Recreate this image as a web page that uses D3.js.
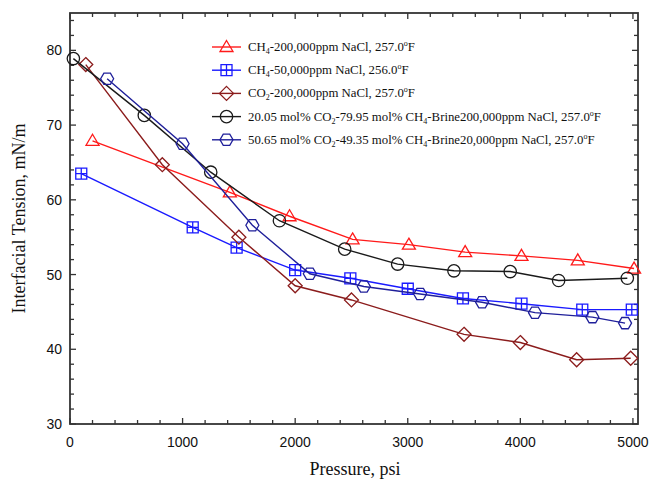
<!DOCTYPE html>
<html>
<head>
<meta charset="utf-8">
<script src="https://cdn.jsdelivr.net/npm/d3@7"></script>
<style>
  body { margin: 0; background: #fff; }
  svg text { fill: #111; }
</style>
</head>
<body>
<div id="chart"></div>
<script>
// series data (pressure psi, IFT mN/m)
const ch4High = [[200,67.9],[1420,61.0],[1950,57.8],[2510,54.7],[3010,54.0],[3510,53.0],[4010,52.5],[4510,51.9],[5010,50.8]];
const ch4Low = [[100,63.5],[1090,56.3],[1480,53.6],[2000,50.6],[2490,49.5],[3000,48.1],[3490,46.8],[4010,46.1],[4550,45.3],[4990,45.3]];
const co2High = [[140,78.1],[820,64.7],[1500,55.0],[2000,48.5],[2500,46.6],[3500,42.0],[4000,40.9],[4500,38.6],[4980,38.8]];
const mix20 = [[30,78.9],[660,71.3],[1250,63.7],[1860,57.2],[2440,53.4],[2910,51.4],[3410,50.5],[3910,50.4],[4340,49.2],[4950,49.5]];
const mix50 = [[330,76.2],[1000,67.5],[1620,56.6],[2130,50.1],[2610,48.4],[3110,47.4],[3660,46.3],[4130,44.9],[4640,44.3],[4930,43.5]];

const xTicks = [0, 1000, 2000, 3000, 4000, 5000];
const yTicks = [30, 40, 50, 60, 70, 80];

// legend labels as [text, kind] pieces
const legendLabels = [
  [["CH"],["4","sub"],["-200,000ppm NaCl, 257.0"],["o","sup"],["F"]],
  [["CH"],["4","sub"],["-50,000ppm NaCl, 256.0"],["o","sup"],["F"]],
  [["CO"],["2","sub"],["-200,000ppm NaCl, 257.0"],["o","sup"],["F"]],
  [["20.05 mol% CO"],["2","sub"],["-79.95 mol% CH"],["4","sub"],["-Brine200,000ppm NaCl, 257.0"],["o","sup"],["F"]],
  [["50.65 mol% CO"],["2","sub"],["-49.35 mol% CH"],["4","sub"],["-Brine20,000ppm NaCl, 257.0"],["o","sup"],["F"]]
];

const series = [
  { data: ch4High, color: "#ff1a1a", marker: "triangle" },
  { data: ch4Low, color: "#1a1aff", marker: "squarecross" },
  { data: co2High, color: "#8b1c1c", marker: "diamond" },
  { data: mix20, color: "#1a1a1a", marker: "circle" },
  { data: mix50, color: "#1f1f9a", marker: "hexagon" }
];

const W = 651, H = 490;
const margin = { left: 70, right: 13, top: 13, bottom: 66 };

const svg = d3.select("#chart").append("svg")
  .attr("width", W).attr("height", H);

const x = d3.scaleLinear().domain([0, 5045]).range([margin.left, W - margin.right]);
const y = d3.scaleLinear().domain([30, 85]).range([H - margin.bottom, margin.top]);

const axisColor = "#333";
const tickFont = "'Liberation Sans', Arial, sans-serif";
const serif = "'Liberation Serif', 'Times New Roman', serif";

// frame
svg.append("rect")
  .attr("x", x.range()[0]).attr("y", y.range()[1])
  .attr("width", x.range()[1] - x.range()[0])
  .attr("height", y.range()[0] - y.range()[1])
  .attr("fill", "none").attr("stroke", axisColor).attr("stroke-width", 1.8);

// inward ticks on all four sides
const xMinor = d3.range(0, 5001, 200);
const yMinor = d3.range(30, 85, 2);
const tg = svg.append("g").attr("stroke", axisColor).attr("stroke-width", 1.3);
xMinor.forEach(v => {
  const len = v % 1000 === 0 ? 6 : 4;
  tg.append("line").attr("x1", x(v)).attr("x2", x(v)).attr("y1", y(30)).attr("y2", y(30) - len);
  tg.append("line").attr("x1", x(v)).attr("x2", x(v)).attr("y1", y(85)).attr("y2", y(85) + len);
});
yMinor.forEach(v => {
  const len = v % 10 === 0 ? 6 : 4;
  tg.append("line").attr("y1", y(v)).attr("y2", y(v)).attr("x1", x(0)).attr("x2", x(0) + len);
  tg.append("line").attr("y1", y(v)).attr("y2", y(v)).attr("x1", x.range()[1]).attr("x2", x.range()[1] - len);
});

// tick labels
svg.append("g").selectAll("text").data(xTicks).enter().append("text")
  .attr("x", d => x(d)).attr("y", y(30) + 23)
  .attr("text-anchor", "middle")
  .style("font-family", tickFont).style("font-size", "14px")
  .text(d => d);
svg.append("g").selectAll("text").data(yTicks).enter().append("text")
  .attr("x", x(0) - 8).attr("y", d => y(d) + 5)
  .attr("text-anchor", "end")
  .style("font-family", tickFont).style("font-size", "14px")
  .text(d => d);

// axis titles
svg.append("text")
  .attr("x", (x.range()[0] + x.range()[1]) / 2 + 1).attr("y", 475)
  .attr("text-anchor", "middle")
  .style("font-family", serif).style("font-size", "18px")
  .text("Pressure, psi");
svg.append("text")
  .attr("transform", `translate(25,${(y.range()[0] + y.range()[1]) / 2}) rotate(-90)`)
  .attr("text-anchor", "middle")
  .style("font-family", serif).style("font-size", "18px")
  .text("Interfacial Tension, mN/m");

// marker shapes
function markerPath(type) {
  if (type === "triangle") return "M0,-6.5L6.5,4.5L-6.5,4.5Z";
  if (type === "diamond") return "M0,-7L7,0L0,7L-7,0Z";
  if (type === "squarecross") return "M-5.5,-5.5H5.5V5.5H-5.5Z M0,-5.5V5.5 M-5.5,0H5.5";
  if (type === "hexagon") {
    const r = 6.5;
    return d3.range(6).map(i => {
      const a = Math.PI / 3 * i;
      return (i ? "L" : "M") + (r * Math.cos(a)).toFixed(2) + "," + (r * Math.sin(a)).toFixed(2);
    }).join("") + "Z";
  }
  return d3.symbol(d3.symbolCircle, 120)();
}

const line = d3.line().x(d => x(d[0])).y(d => y(d[1]));

series.forEach(s => {
  svg.append("path").datum(s.data)
    .attr("d", line).attr("fill", "none")
    .attr("stroke", s.color).attr("stroke-width", 1.4);
  svg.append("g").selectAll("path").data(s.data).enter().append("path")
    .attr("transform", d => `translate(${x(d[0])},${y(d[1])})`)
    .attr("d", markerPath(s.marker))
    .attr("fill", "none").attr("stroke", s.color).attr("stroke-width", 1.3);
});

// legend
const legY0 = 47, legStep = 23.2;
series.forEach((s, i) => {
  const ly = legY0 + i * legStep;
  const g = svg.append("g");
  g.append("line").attr("x1", 212).attr("x2", 241).attr("y1", ly).attr("y2", ly)
    .attr("stroke", s.color).attr("stroke-width", 1.4);
  g.append("path").attr("transform", `translate(226.5,${ly})`)
    .attr("d", markerPath(s.marker))
    .attr("fill", "none").attr("stroke", s.color).attr("stroke-width", 1.3);
  const t = g.append("text").attr("x", 248).attr("y", ly + 4)
    .style("font-family", serif).style("font-size", "12.8px");
  let shift = 0; // current baseline offset
  legendLabels[i].forEach(([txt, kind]) => {
    const target = kind === "sub" ? 3 : kind === "sup" ? -5 : 0;
    t.append("tspan").attr("dy", target - shift)
      .style("font-size", kind ? "8px" : null)
      .text(txt);
    shift = target;
  });
});
</script>
</body>
</html>
